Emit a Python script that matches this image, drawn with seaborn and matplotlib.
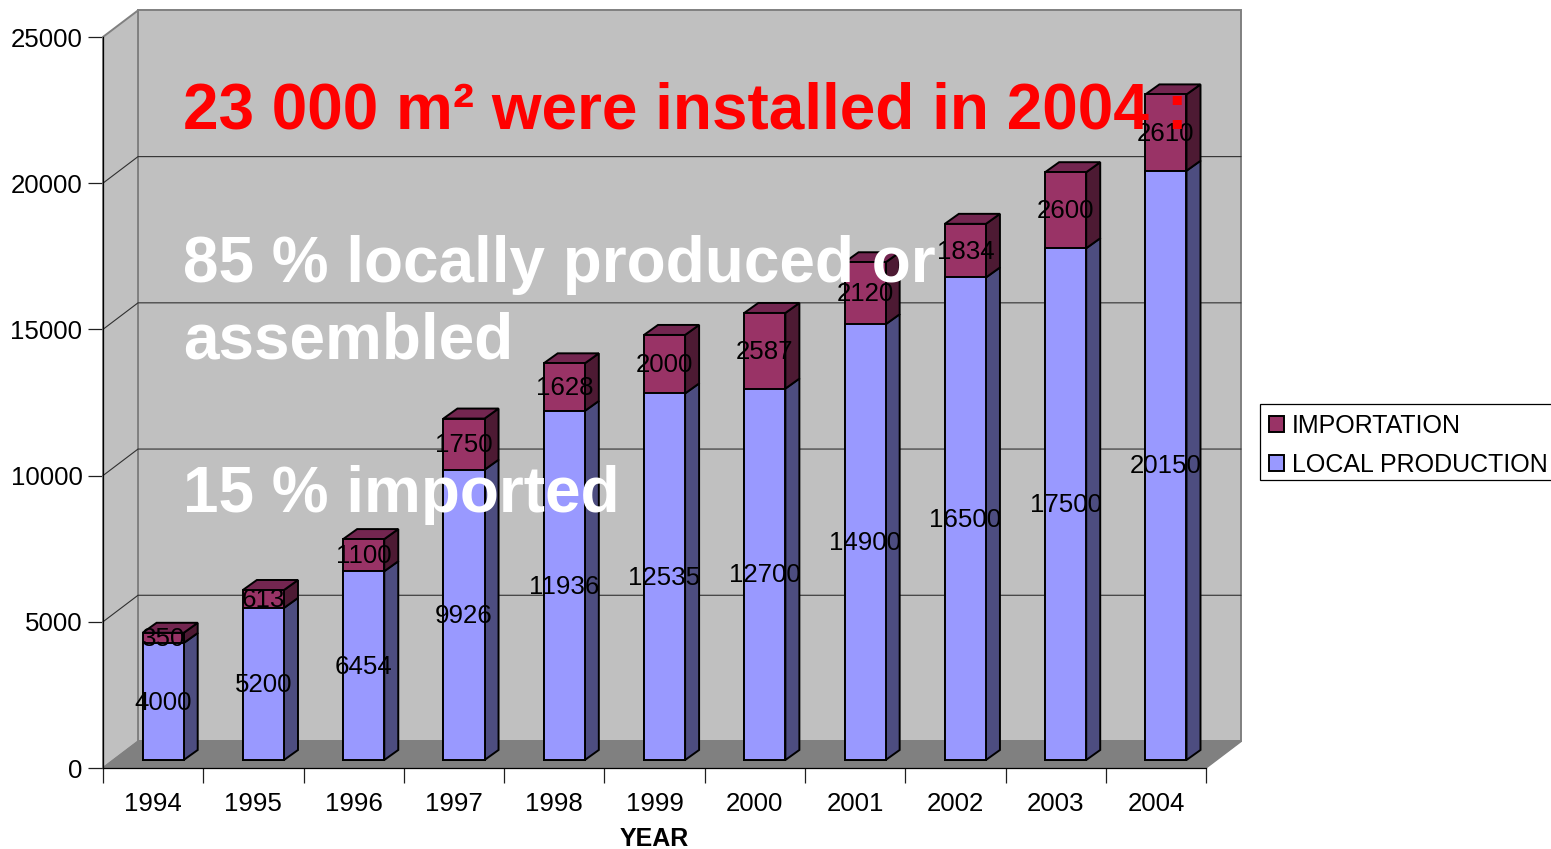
import matplotlib
matplotlib.use("Agg")
import matplotlib.pyplot as plt
import matplotlib.transforms as mtransforms
from matplotlib.patches import Patch, Polygon, Rectangle
import pandas as pd
import seaborn as sns

years = ["1994", "1995", "1996", "1997", "1998", "1999", "2000", "2001", "2002", "2003", "2004"]
local_production = [4000, 5200, 6454, 9926, 11936, 12535, 12700, 14900, 16500, 17500, 20150]
importation = [350, 613, 1100, 1750, 1628, 2000, 2587, 2120, 1834, 2600, 2610]
y_ticks = [0, 5000, 10000, 15000, 20000, 25000]
headline = "23 000 m² were installed in 2004 :"
notes = ["85 % locally produced or", "assembled", "15 % imported"]

W, H = 1551, 849
LOCAL, LOCAL_SIDE = "#9999FF", "#4D4D80"
IMP, IMP_SIDE, IMP_TOP = "#993366", "#4D1A33", "#732650"
WALL, FLOOR, EDGE = "#C0C0C0", "#808080", "#808080"
NUM_FS = 18.6
BAR_LW = 1.4

sns.set_theme(style="white")
plt.rcParams["font.family"] = ["Liberation Sans", "DejaVu Sans"]
plt.rcParams["text.color"] = "black"

fig = plt.figure(figsize=(W / 100 + 0.001, H / 100 + 0.001), dpi=100, facecolor="white")
ax = fig.add_axes([103 / W, 1 - 768 / H, (1206 - 103) / W, (768 - 37) / H])
ax.set_facecolor("none")

totals = [a + b for a, b in zip(local_production, importation)]
df = pd.DataFrame({"year": years, "local": local_production, "total": totals})

BAR_W = 0.41
sns.barplot(data=df, x="year", y="total", color=IMP, saturation=1, width=BAR_W,
            edgecolor="black", linewidth=BAR_LW, ax=ax, zorder=4)
sns.barplot(data=df, x="year", y="local", color=LOCAL, saturation=1, width=BAR_W,
            edgecolor="black", linewidth=BAR_LW, ax=ax, zorder=4)

ax.set_xlim(-0.5, 10.5)
ax.set_ylim(0, 25000)
PX = (1206 - 103) / 11      # pixels per category
PY = (768 - 37) / 25000     # pixels per value unit

# pixel shift of the bar fronts in the pseudo-3D floor
front = ax.transData + mtransforms.Affine2D().translate(10, 8)
label_tf = ax.transData + mtransforms.Affine2D().translate(10, 7)
for p in ax.patches:
    p.set_transform(front)

# walls and floor
wx, wy = 35 / PX, 26.5 / PY
x0, x1 = -0.5, 10.5
top = y_ticks[-1]
ax.add_patch(Polygon([(x0 + wx, wy), (x1 + wx, wy), (x1 + wx, top + wy), (x0 + wx, top + wy)],
                     closed=True, fc=WALL, ec=EDGE, lw=1.4, clip_on=False, zorder=1))
ax.add_patch(Polygon([(x0, 0), (x0 + wx, wy), (x0 + wx, top + wy), (x0, top)],
                     closed=True, fc=WALL, ec=EDGE, lw=1.4, clip_on=False, zorder=1))
ax.add_patch(Polygon([(x0, 0), (x0 + wx, wy), (x1 + wx, wy), (x1, 0)],
                     closed=True, fc=FLOOR, ec=EDGE, lw=1.0, clip_on=False, zorder=1.5))
for v in y_ticks[1:-1]:
    ax.plot([x0, x0 + wx, x1 + wx], [v, v + wy, v + wy], color="#303030", lw=0.8,
            clip_on=False, zorder=2)

# bar depth faces
dx, dy = 14 / PX, 10 / PY
half = BAR_W / 2
for i, (loc, tot) in enumerate(zip(local_production, totals)):
    r = i + half
    l = i - half
    for y0, y1, col in [(0, loc, LOCAL_SIDE), (loc, tot, IMP_SIDE)]:
        ax.add_patch(Polygon([(r, y0), (r + dx, y0 + dy), (r + dx, y1 + dy), (r, y1)], closed=True,
                             fc=col, ec="black", lw=BAR_LW, transform=front, clip_on=False, zorder=3))
    ax.add_patch(Polygon([(l, tot), (l + dx, tot + dy), (r + dx, tot + dy), (r, tot)], closed=True,
                         fc=IMP_TOP, ec="black", lw=BAR_LW, transform=front, clip_on=False, zorder=3))
    ax.text(i, loc / 2, str(loc), ha="center", va="center", fontsize=NUM_FS, color="black",
            transform=label_tf, zorder=6)
    ax.text(i, loc + importation[i] / 2, str(importation[i]), ha="center", va="center", fontsize=NUM_FS,
            color="black", transform=label_tf, zorder=6)

# axes furniture
for s in ("top", "right"):
    ax.spines[s].set_visible(False)
for s in ("left", "bottom"):
    ax.spines[s].set_visible(True)
    ax.spines[s].set_color("black")
    ax.spines[s].set_linewidth(0.9)
    ax.spines[s].set_zorder(5)
ax.set_yticks(y_ticks)
ax.tick_params(axis="y", left=True, length=10.8, width=0.9, color="#202020", pad=4,
               labelsize=NUM_FS, labelcolor="black")
ax.set_xticks(range(len(years)))
ax.set_xticklabels(years)
ax.set_xticks([i - 0.5 for i in range(len(years) + 1)], minor=True)
ax.tick_params(axis="x", which="major", bottom=False, length=0, pad=17.5, labelsize=NUM_FS, labelcolor="black")
ax.tick_params(axis="x", which="minor", bottom=True, length=10.8, width=0.9, color="#202020")
ax.set_xlabel("YEAR", fontsize=18, fontweight="bold", color="black", labelpad=7.6)
ax.set_ylabel("")

# overlaid statements
def fx(px):
    return px / W
def fy(py):
    return 1 - py / H

fig.text(fx(183), fy(128), headline, color="#FF0000", fontsize=46, fontweight="bold", zorder=10)
for s, base in zip(notes, [282, 358, 512]):
    fig.text(fx(183), fy(base), s, color="white", fontsize=46, fontweight="bold", zorder=10)

# legend: frame drawn separately so its height can match the reference
fig.add_artist(Rectangle((fx(1260), fy(480)), (W + 5 - 1260) / W, (480 - 404) / H,
                         transform=fig.transFigure, fc="white", ec="black", lw=0.9, zorder=7))
handles = [Patch(fc=IMP, ec="black", lw=BAR_LW, label="IMPORTATION"),
           Patch(fc=LOCAL, ec="black", lw=BAR_LW, label="LOCAL PRODUCTION")]
leg = fig.legend(handles=handles, loc="upper left", bbox_to_anchor=(fx(1260), fy(404.5)),
                 bbox_transform=fig.transFigure, borderaxespad=0, fontsize=18, frameon=False,
                 handlelength=0.6, handleheight=0.6, handletextpad=0.32, borderpad=0.36,
                 labelspacing=0.6)
leg.set_zorder(8)
for t in leg.get_texts():
    t.set_color("black")

fig.savefig("out.png", dpi=100, facecolor="white")
